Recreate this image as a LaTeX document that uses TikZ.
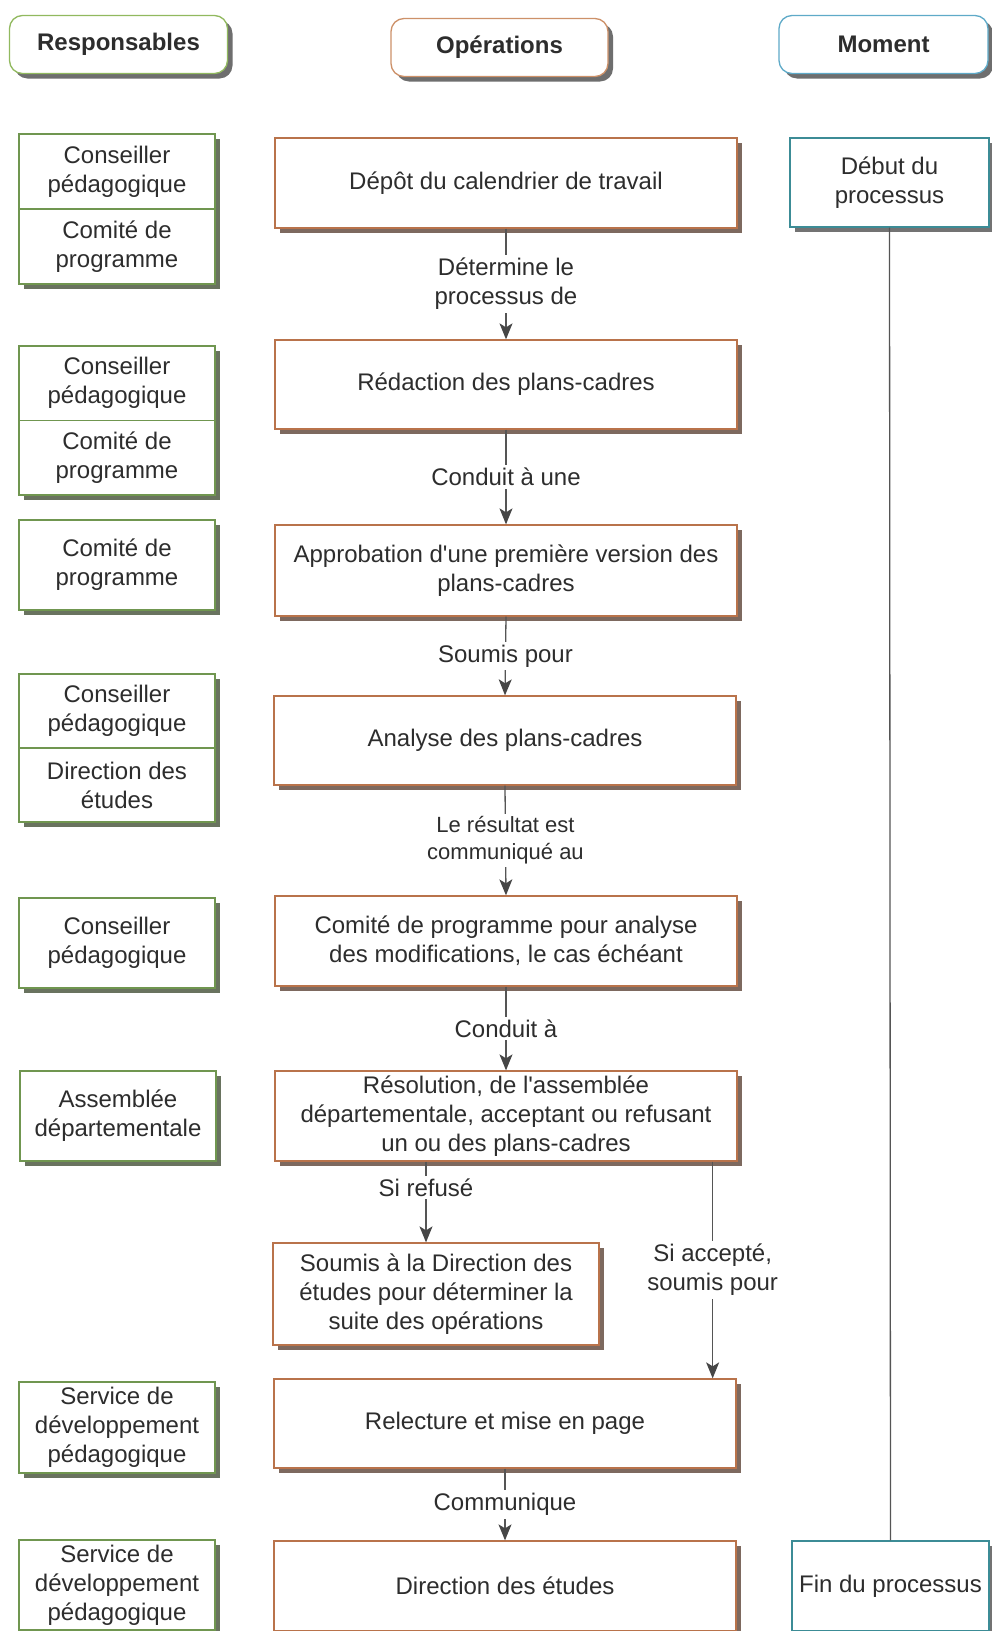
\documentclass[tikz,border=0pt]{standalone}
\usepackage{fontspec}
\setmainfont{Liberation Sans}[Ligatures=TeXOff]
\usetikzlibrary{arrows.meta,shadows}
\definecolor{txt}{RGB}{45,45,45}
\definecolor{linec}{RGB}{85,85,85}
\definecolor{tipc}{RGB}{70,70,70}
\definecolor{respc}{RGB}{112,150,80}
\definecolor{respsh}{RGB}{105,115,95}
\definecolor{operc}{RGB}{185,115,75}
\definecolor{opersh}{RGB}{125,105,95}
\definecolor{momc}{RGB}{60,140,150}
\definecolor{momsh}{RGB}{115,115,115}
\definecolor{hrc}{RGB}{145,185,95}
\definecolor{hoc}{RGB}{205,145,105}
\definecolor{hmc}{RGB}{95,170,200}
\definecolor{hsh}{RGB}{110,110,110}
\begin{document}
\begin{tikzpicture}[x=1pt,y=-1pt,
  base/.style={rectangle, draw, line width=1.3pt, fill=white, text=txt,
    font=\fontsize{24}{29}\selectfont, align=center, inner sep=0pt},
  shd/.style={drop shadow={shadow xshift=5pt, shadow yshift=-5pt, fill=#1, opacity=1}},
  resp/.style={base, draw=respc, shd=respsh},
  oper/.style={base, draw=operc, shd=opersh},
  mom/.style={base, draw=momc, shd=momsh},
  hdr/.style={base, rounded corners=13pt, font=\bfseries\fontsize{24}{29}\selectfont, shd=hsh},
  intxt/.style={text=txt, font=\fontsize{24}{29}\selectfont, align=center, inner sep=0pt},
  lbl/.style={fill=white, text=txt, font=\fontsize{24}{29}\selectfont, align=center, inner sep=3pt},
  arr/.style={draw=linec, line width=1.3pt, -{Stealth[length=16pt,width=13pt,inset=4pt,color=tipc]}},
  divl/.style={draw=respc, line width=1.3pt}
]
\useasboundingbox (0,0) rectangle (991,1631);
\fill[white] (0,0) rectangle (991,1631);

% headers
\node[hdr, draw=hrc, minimum width=218pt, minimum height=58pt] (hR) at (118.5,44.5) {Responsables};
\node[hdr, draw=hoc, minimum width=217pt, minimum height=58pt] (hO) at (499.5,47.5) {Opérations};
\node[hdr, draw=hmc, minimum width=209pt, minimum height=58pt] (hM) at (883.5,44.5) {Moment};

% left column (responsables)
\node[resp, minimum width=196pt, minimum height=150pt] (r1) at (117,209) {};
\draw[divl] (r1.west) -- (r1.east);
\node[intxt] (r1a) at (117,171.5) {Conseiller\\pédagogique};
\node[intxt] (r1b) at (117,246.5) {Comité de\\programme};

\node[resp, minimum width=196pt, minimum height=149pt] (r2) at (117,420.5) {};
\draw[divl] (r2.west) -- (r2.east);
\node[intxt] (r2a) at (117,383) {Conseiller\\pédagogique};
\node[intxt] (r2b) at (117,458) {Comité de\\programme};

\node[resp, minimum width=196pt, minimum height=90pt] (r3) at (117,565) {Comité de\\programme};

\node[resp, minimum width=196pt, minimum height=148pt] (r4) at (117,748) {};
\draw[divl] (r4.west) -- (r4.east);
\node[intxt] (r4a) at (117,711) {Conseiller\\pédagogique};
\node[intxt] (r4b) at (117,785) {Direction des\\études};

\node[resp, minimum width=196pt, minimum height=90pt] (r5) at (117,943) {Conseiller\\pédagogique};
\node[resp, minimum width=196pt, minimum height=90pt] (r6) at (118,1116) {Assemblée\\départementale};
\node[resp, minimum width=196pt, minimum height=91pt] (r7) at (117,1427.5) {Service de\\développement\\pédagogique};
\node[resp, minimum width=196pt, minimum height=90pt] (r8) at (117,1585) {Service de\\développement\\pédagogique};

% middle column (operations)
\node[oper, minimum width=462pt, minimum height=90pt] (o1) at (506,183) {Dépôt du calendrier de travail};
\node[oper, minimum width=462pt, minimum height=89pt] (o2) at (506,384.5) {Rédaction des plans-cadres};
\node[oper, minimum width=462pt, minimum height=91pt] (o3) at (506,570.5) {Approbation d'une première version des\\plans-cadres};
\node[oper, minimum width=462pt, minimum height=89pt] (o4) at (505,740.5) {Analyse des plans-cadres};
\node[oper, minimum width=462pt, minimum height=90pt] (o5) at (506,941) {Comité de programme pour analyse\\des modifications, le cas échéant};
\node[oper, minimum width=462pt, minimum height=90pt] (o6) at (506,1116) {Résolution, de l'assemblée\\départementale, acceptant ou refusant\\un ou des plans-cadres};
\node[oper, minimum width=326pt, minimum height=102pt] (o7) at (436,1294) {Soumis à la Direction des\\études pour déterminer la\\suite des opérations};
\node[oper, minimum width=462pt, minimum height=89pt] (o8) at (505,1423.5) {Relecture et mise en page};
\node[oper, minimum width=462pt, minimum height=90pt] (o9) at (505,1586) {Direction des études};

% right column (moment)
\node[mom, minimum width=199pt, minimum height=89pt] (m1) at (889.5,182.5) {Début du\\processus};
\node[mom, minimum width=197pt, minimum height=90pt] (m2) at (890.5,1586) {Fin du processus};
\draw[draw=linec, line width=1.3pt] (m1.south) -- (m2.north);

% arrows
\draw[arr] (o1.south) -- (o2.north) node[midway, lbl] {Détermine le\\processus de};
\draw[arr] (o2.south) -- (o3.north) node[midway, lbl] {Conduit à une};
\draw[arr] (o3.south) -- (o4.north) node[midway, lbl] {Soumis pour};
\draw[arr] (o4.south) -- (o5.north) node[midway, lbl, font=\fontsize{22}{27}\selectfont] {Le résultat est\\communiqué au};
\draw[arr] (o5.south) -- (o6.north) node[midway, lbl] {Conduit à};
\path ([xshift=-10pt]o7.north) coordinate (sr);
\draw[arr] (o6.south -| sr) -- (sr) node[pos=0.32, lbl] {Si refusé};
\path ([xshift=-24pt]o8.north east) coordinate (sa);
\draw[arr] (o6.south -| sa) -- (sa) node[midway, lbl] {Si accepté,\\soumis pour};
\draw[arr] (o8.south) -- (o9.north) node[midway, lbl] {Communique};
\end{tikzpicture}
\end{document}
